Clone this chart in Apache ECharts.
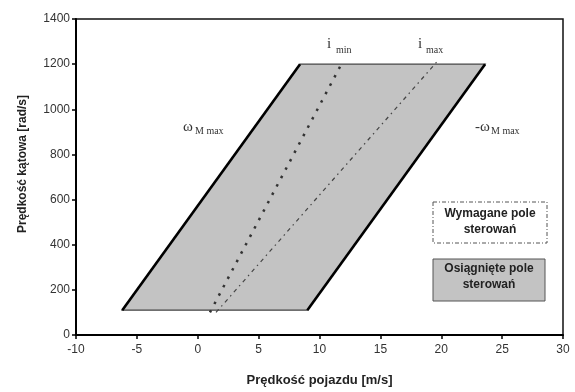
<!DOCTYPE html>
<html>
<head>
<meta charset="utf-8">
<script src="https://cdn.jsdelivr.net/npm/echarts@6/dist/echarts.min.js"></script>
<style>
html,body{margin:0;padding:0;background:#fff;}
#chart{width:575px;height:392px;}
</style>
</head>
<body>
<div id="chart"></div>
<script>
// ---- data ----
const xTicks = [-10, -5, 0, 5, 10, 15, 20, 25, 30];
const yTicks = [0, 200, 400, 600, 800, 1000, 1200, 1400];
// achieved control region (parallelogram corners: bottom-left, bottom-right, top-right, top-left)
const regionX = [-6.2, 9.0, 23.6, 8.4];
const regionY = [110, 110, 1200, 1200];
// left boundary (omega M max) and right boundary (-omega M max)
const leftEdgeX = [-6.2, 8.4];
const leftEdgeY = [110, 1200];
const rightEdgeX = [9.0, 23.6];
const rightEdgeY = [110, 1200];
// i_min and i_max lines
const iMinX = [1.0, 11.7];
const iMinY = [100, 1190];
const iMaxX = [1.5, 19.8];
const iMaxY = [100, 1220];

const zip = (a, b) => a.map((v, i) => [v, b[i]]);

const chart = echarts.init(document.getElementById('chart'));
const sans = 'Liberation Sans, Arial, sans-serif';
const serif = 'Liberation Serif, Times New Roman, serif';

chart.setOption({
  animation: false,
  backgroundColor: '#fff',
  grid: {left: 76, right: 12, top: 19, bottom: 53, show: true, borderColor: '#111', borderWidth: 1.5, backgroundColor: 'transparent'},
  xAxis: {
    type: 'value', min: xTicks[0], max: xTicks[xTicks.length - 1], interval: 5,
    name: 'Prędkość pojazdu [m/s]', nameLocation: 'middle', nameGap: 39,
    nameTextStyle: {fontFamily: sans, fontSize: 13, fontWeight: 'bold', color: '#222'},
    axisLine: {onZero: false, lineStyle: {color: '#000', width: 2}},
    axisTick: {inside: false, length: 4, lineStyle: {color: '#000', width: 1.5}},
    axisLabel: {fontFamily: sans, fontSize: 12, color: '#333', margin: 9, formatter: v => String(v)},
    splitLine: {show: false}
  },
  yAxis: {
    type: 'value', min: yTicks[0], max: yTicks[yTicks.length - 1], interval: 200,
    name: 'Prędkość kątowa [rad/s]', nameLocation: 'middle', nameGap: 47,
    nameTextStyle: {fontFamily: sans, fontSize: 12, fontWeight: 'bold', color: '#222', padding: [0, 0, 0, 26]},
    axisLine: {onZero: false, lineStyle: {color: '#000', width: 2}},
    axisTick: {inside: false, length: 4, lineStyle: {color: '#000', width: 1.5}},
    axisLabel: {fontFamily: sans, fontSize: 12, color: '#333', margin: 6, formatter: v => String(v)},
    splitLine: {show: false}
  },
  series: [
    {
      type: 'custom',
      name: 'Osiągnięte pole sterowań',
      renderItem: function (params, api) {
        const pts = regionX.map((x, i) => api.coord([x, regionY[i]]));
        return {type: 'polygon', shape: {points: pts},
          style: {fill: '#c3c3c3', stroke: '#444', lineWidth: 1.3}};
      },
      data: [0], silent: true, z: 1
    },
    {type: 'line', data: zip(leftEdgeX, leftEdgeY), symbol: 'none', lineStyle: {color: '#000', width: 2.6}, z: 3},
    {type: 'line', data: zip(rightEdgeX, rightEdgeY), symbol: 'none', lineStyle: {color: '#000', width: 2.6}, z: 3},
    {type: 'line', data: zip(iMinX, iMinY), symbol: 'none', lineStyle: {color: '#333', width: 2.5, type: [2.5, 7]}, z: 2},
    {type: 'line', data: zip(iMaxX, iMaxY), symbol: 'none', lineStyle: {color: '#444', width: 1.2, type: [4, 4, 1.5, 4]}, z: 2}
  ],
  graphic: [
    // line labels
    {type: 'text', left: 327, top: 37, style: {text: 'i', font: '15px ' + serif, fill: '#333'}},
    {type: 'text', left: 336, top: 45, style: {text: 'min', font: '10px ' + serif, fill: '#333'}},
    {type: 'text', left: 418, top: 37, style: {text: 'i', font: '15px ' + serif, fill: '#333'}},
    {type: 'text', left: 426, top: 45, style: {text: 'max', font: '10px ' + serif, fill: '#333'}},
    {type: 'text', left: 183, top: 120, style: {text: 'ω', font: '15px ' + serif, fill: '#333'}},
    {type: 'text', left: 195, top: 126, style: {text: 'M max', font: '10px ' + serif, fill: '#333'}},
    {type: 'text', left: 475, top: 120, style: {text: '-ω', font: '15px ' + serif, fill: '#333'}},
    {type: 'text', left: 491, top: 126, style: {text: 'M max', font: '10px ' + serif, fill: '#333'}},
    // legend-like boxes
    {type: 'rect', shape: {x: 433, y: 202, width: 114, height: 41},
      style: {fill: '#fff', stroke: '#555', lineWidth: 1, lineDash: [4, 2, 1, 2]}},
    {type: 'text', x: 490, y: 222, style: {text: 'Wymagane pole\nsterowań', font: 'bold 12px ' + sans, fill: '#222', align: 'center', verticalAlign: 'middle', lineHeight: 16}},
    {type: 'rect', shape: {x: 433, y: 259, width: 112, height: 42},
      style: {fill: '#c3c3c3', stroke: '#555', lineWidth: 1}},
    {type: 'text', x: 489, y: 277, style: {text: 'Osiągnięte pole\nsterowań', font: 'bold 12px ' + sans, fill: '#222', align: 'center', verticalAlign: 'middle', lineHeight: 16}}
  ]
});
</script>
</body>
</html>
